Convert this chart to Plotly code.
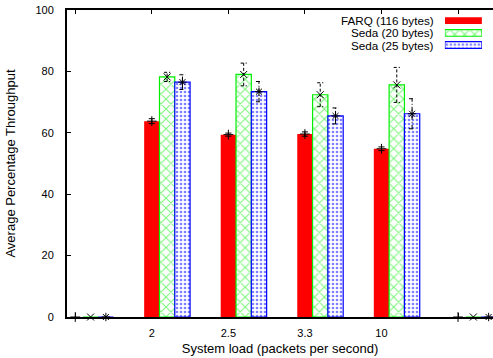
import plotly.graph_objects as go

# ---- data ----
positions = [0, 1, 2, 3, 4, 5]
tick_labels = ["", "2", "2.5", "3.3", "10", ""]
farq = [0, 63.8, 59.4, 59.6, 54.8, 0]
farq_err = [0, 0.8, 0.5, 0.7, 0.6, 0]
seda20 = [0, 78.2, 79.0, 72.4, 75.6, 0]
seda20_err = [0, 1.5, 3.7, 3.9, 5.7, 0]
seda25 = [0, 76.5, 73.4, 65.5, 66.2, 0]
seda25_err = [0, 2.4, 3.3, 2.6, 4.9, 0]
names = ["FARQ (116 bytes)", "Seda (20 bytes)", "Seda (25 bytes)"]
legend_sample = [1, 1, 1]

FONT = "Liberation Sans, Arial, sans-serif"
FS = 11
LEG_FS = 11.7
BAR_W = 0.2
CAP = 0.04

series = [
    dict(name=names[0], y=farq, e=farq_err, shift=0.0, color="#ff0000",
         pattern=dict(shape=""), line=dict(color="#ff0000", width=0),
         dash="solid", symbol="cross-thin-open"),
    dict(name=names[1], y=seda20, e=seda20_err, shift=BAR_W, color="#00ee00",
         pattern=dict(shape="x", fgcolor="#00ee00", bgcolor="white", size=7, solidity=0.3),
         line=dict(color="#00ee00", width=1.2), dash="3px,2px", symbol="x-thin-open"),
    dict(name=names[2], y=seda25, e=seda25_err, shift=2 * BAR_W, color="#0000ff",
         pattern=dict(shape=".", fgcolor="#0000ff", bgcolor="white", size=4, solidity=0.35),
         line=dict(color="#0000ff", width=1.2), dash="4px,2px,1px,2px", symbol="asterisk-open"),
]

fig = go.Figure()

for s in series:
    marker = dict(color=s["color"] if s["pattern"]["shape"] == "" else "white",
                  line=s["line"])
    if s["pattern"]["shape"]:
        marker["pattern"] = s["pattern"]
    fig.add_trace(go.Bar(
        x=positions, y=s["y"], width=BAR_W, offset=s["shift"] - BAR_W / 2,
        marker=marker, showlegend=False, name=s["name"],
    ))

# error bars (whiskers + caps) and center markers
for s in series:
    xs, ys = [], []
    for p, v, e in zip(positions, s["y"], s["e"]):
        if e == 0:
            continue
        x = p + s["shift"]
        xs += [x, x, None, x - CAP, x + CAP, None, x - CAP, x + CAP, None]
        ys += [v - e, v + e, None, v + e, v + e, None, v - e, v - e, None]
    fig.add_trace(go.Scatter(
        x=xs, y=ys, mode="lines", line=dict(color="black", width=1, dash=s["dash"]),
        showlegend=False, hoverinfo="skip",
    ))
    fig.add_trace(go.Scatter(
        x=[p + s["shift"] for p in positions], y=s["y"], mode="markers",
        marker=dict(symbol=s["symbol"], size=7, color="black", line=dict(color="black", width=1)),
        showlegend=False, cliponaxis=False,
    ))

# legend samples drawn on a small hidden axis pair
for i, s in enumerate(series):
    marker = dict(color=s["color"] if s["pattern"]["shape"] == "" else "white",
                  line=s["line"])
    if s["pattern"]["shape"]:
        marker["pattern"] = dict(s["pattern"])
    fig.add_trace(go.Bar(
        x=[legend_sample[i]], y=[i], orientation="h", width=0.55,
        marker=marker, xaxis="x2", yaxis="y2", showlegend=False,
    ))
    fig.add_annotation(
        x=0.866, xref="paper", y=i, yref="y2", text=s["name"], showarrow=False,
        xanchor="right", yanchor="middle", font=dict(family=FONT, size=LEG_FS, color="black"),
    )

fig.update_layout(
    width=493, height=358,
    margin=dict(l=67, r=0, t=10, b=41),
    paper_bgcolor="white", plot_bgcolor="white",
    font=dict(family=FONT, size=FS, color="black"),
    barmode="overlay",
    xaxis=dict(
        range=[-0.108, 5.457], tickmode="array", tickvals=positions, ticktext=tick_labels,
        ticks="inside", ticklen=4, tickwidth=1, tickcolor="black",
        showline=True, linecolor="black", linewidth=2, mirror="ticks",
        showgrid=False, zeroline=False, layer="below traces", ticklabelstandoff=5,
        title=dict(text="System load (packets per second)", standoff=6),
    ),
    yaxis=dict(
        range=[0, 100], tickvals=[0, 20, 40, 60, 80, 100],
        ticks="inside", ticklen=4, tickwidth=1, tickcolor="black",
        showline=True, linecolor="black", linewidth=2, mirror=False,
        showgrid=False, zeroline=False, ticklabelstandoff=9,
        title=dict(text="Average Percentage Throughput", standoff=17),
    ),
    xaxis2=dict(domain=[0.887, 0.974], anchor="y2", range=[0, 1], visible=False, fixedrange=True),
    yaxis2=dict(domain=[0.866, 0.985], anchor="x2", range=[2.5, -0.5], visible=False, fixedrange=True),
)

fig.write_html("out.html")
